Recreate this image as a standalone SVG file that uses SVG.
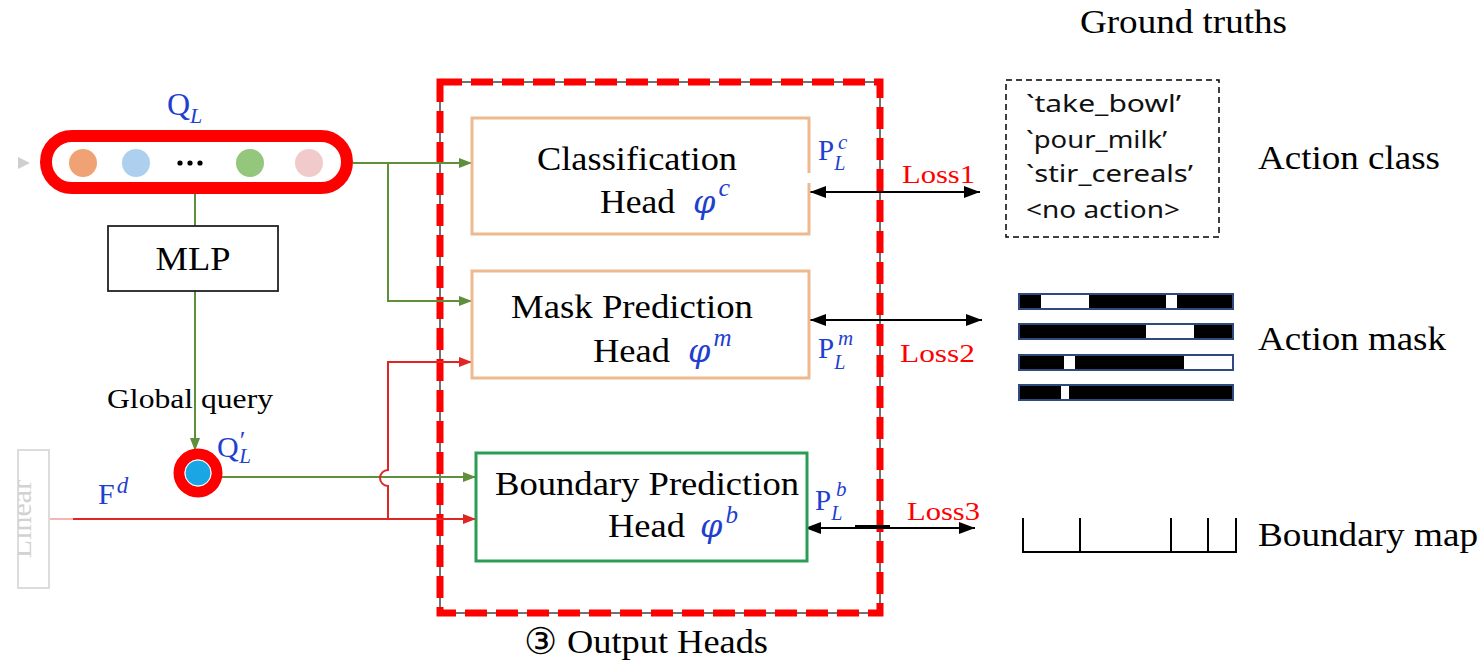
<svg xmlns="http://www.w3.org/2000/svg" width="1483" height="664" viewBox="0 0 1483 664">
<defs>
<style>
.serif{font-family:"Liberation Serif","Times New Roman",serif;fill:#000}
.math{font-family:"Liberation Serif","DejaVu Serif",serif;fill:#1f3fcf}
.phi{font-family:"DejaVu Serif","Liberation Serif",serif;font-style:italic;fill:#1f3fcf;font-size:32px}
.it{font-style:italic}
.loss{font-family:"Liberation Serif",serif;fill:#ff0000;font-size:26px}
.gt{font-family:"Noto Sans","DejaVu Sans",sans-serif;font-size:24px;fill:#111}
.g{stroke:#5e8f3a;stroke-width:2;fill:none}
.r{stroke:#e02525;stroke-width:2;fill:none}
.k{stroke:#000;stroke-width:2.2;fill:none}
.head{fill:#fff;stroke:#edb98f;stroke-width:3}
.bar{stroke:#2f4a80;stroke-width:2}
</style>
<marker id="ag" markerUnits="userSpaceOnUse" markerWidth="13" markerHeight="10" refX="13" refY="5" orient="auto"><path d="M0,0 L13,5 L0,10 z" fill="#5e8f3a"/></marker>
<marker id="ar" markerUnits="userSpaceOnUse" markerWidth="13" markerHeight="10" refX="13" refY="5" orient="auto"><path d="M0,0 L13,5 L0,10 z" fill="#e02525"/></marker>
<marker id="ak" markerUnits="userSpaceOnUse" markerWidth="16" markerHeight="12" refX="16" refY="6" orient="auto-start-reverse"><path d="M0,0 L16,6 L0,12 z" fill="#000"/></marker>
<clipPath id="linclip"><rect x="18" y="450" width="31" height="138"/></clipPath>
</defs>
<rect width="1483" height="664" fill="#fff"/>

<g id="linear-faded">
<rect x="18" y="450" width="31" height="138" fill="none" stroke="#dcdcdc" stroke-width="2"/>
<g clip-path="url(#linclip)">
<text font-family="Liberation Serif,serif" font-size="30" fill="#d2d2d2" transform="translate(31,519) rotate(-90)" text-anchor="middle">Linear</text>
</g>
<path d="M18,157 L30,163 L18,169 z" fill="#cfcfcf"/>
</g>

<g id="output-heads-frame">
<rect x="440" y="82" width="440" height="531" fill="none" stroke="#444" stroke-width="1.5"/>
<rect x="440" y="82" width="440" height="531" fill="none" stroke="#ff0000" stroke-width="7" stroke-dasharray="22 9"/>
<text x="524" y="654" font-family="DejaVu Sans,sans-serif" font-size="37" fill="#000">③</text>
<text class="serif" x="567" y="653" font-size="33" textLength="201" lengthAdjust="spacingAndGlyphs">Output Heads</text>
</g>

<g id="connectors">
<path class="g" d="M353,163 H472" marker-end="url(#ag)"/>
<path class="g" d="M388,163 V301 H472" marker-end="url(#ag)"/>
<path class="g" d="M195,194 V226"/>
<path class="g" d="M195,291 V451" marker-end="url(#ag)"/>
<path class="g" d="M222,477 H476" marker-end="url(#ag)"/>
<path d="M50,519 H73" stroke="#f5b5b5" stroke-width="2"/>
<path class="r" d="M73,519 H476" marker-end="url(#ar)"/>
<path class="r" d="M388,519 V486 A8,8 0 0 1 388,470 V362 H472" marker-end="url(#ar)"/>
<path class="k" d="M810,192 H980" marker-start="url(#ak)" marker-end="url(#ak)"/>
<path class="k" d="M810,320 H982" marker-start="url(#ak)" marker-end="url(#ak)"/>
<path class="k" d="M805,528 H975" marker-start="url(#ak)" marker-end="url(#ak)"/>
<path d="M855,527 H890" stroke="#000" stroke-width="4"/>
</g>

<g id="query-set">
<text class="math" x="167" y="115" font-size="32">Q<tspan class="it" font-size="22" dy="8">L</tspan></text>
<rect x="46" y="136" width="301" height="52" rx="26" ry="26" fill="#fff" stroke="#ff0000" stroke-width="12"/>
<circle cx="83" cy="163" r="14" fill="#f0a274"/>
<circle cx="136" cy="163" r="14" fill="#acd0ee"/>
<circle cx="180" cy="163" r="2.6" fill="#000"/>
<circle cx="190" cy="163" r="2.6" fill="#000"/>
<circle cx="200" cy="163" r="2.6" fill="#000"/>
<circle cx="250" cy="163" r="14" fill="#94c67c"/>
<circle cx="309" cy="163" r="14" fill="#f1cbcb"/>
</g>

<g id="mlp">
<rect x="108" y="226" width="170" height="65" fill="#fff" stroke="#222" stroke-width="1.8"/>
<text class="serif" x="193" y="270" font-size="34" text-anchor="middle" textLength="75" lengthAdjust="spacingAndGlyphs">MLP</text>
</g>

<g id="global-query">
<text class="serif" x="107" y="408" font-size="27" textLength="166" lengthAdjust="spacingAndGlyphs">Global query</text>
<path class="g" d="M195,392 V412"/>
<circle cx="198" cy="473" r="19" fill="#fff" stroke="#ff0000" stroke-width="11"/>
<circle cx="198" cy="473" r="13" fill="#1aa6e4" stroke="#fff" stroke-width="1"/>
<text class="math" x="217" y="457" font-size="30">Q<tspan font-size="26" dx="1" dy="-8">′</tspan><tspan class="it" font-size="21" dx="-6" dy="14">L</tspan></text>
<text class="math" x="98" y="504" font-size="30">F<tspan class="it" font-size="23" dx="2" dy="-11">d</tspan></text>
</g>

<g id="classification-head">
<rect class="head" x="472" y="118" width="337" height="116"/>
<text class="serif" x="537" y="170" font-size="34" textLength="200" lengthAdjust="spacingAndGlyphs">Classification</text>
<text class="serif" x="600" y="213" font-size="34" textLength="75" lengthAdjust="spacingAndGlyphs">Head</text>
<text class="phi" x="693" y="213">φ<tspan class="math it" font-size="26" dx="3" dy="-17">c</tspan></text>
<text class="math" x="818" y="160" font-size="29">P<tspan class="it" font-size="20" dy="10">L</tspan></text>
<text class="math it" x="838" y="149" font-size="21">c</text>
<rect x="804" y="173" width="8" height="10" fill="#fff"/>
</g>

<g id="mask-head">
<rect class="head" x="472" y="271" width="337" height="107"/>
<text class="serif" x="511" y="318" font-size="34" textLength="242" lengthAdjust="spacingAndGlyphs">Mask Prediction</text>
<text class="serif" x="593" y="362" font-size="34" textLength="77" lengthAdjust="spacingAndGlyphs">Head</text>
<text class="phi" x="688" y="362">φ<tspan class="math it" font-size="25" dx="3" dy="-16">m</tspan></text>
<text class="math" x="818" y="358" font-size="29">P<tspan class="it" font-size="20" dy="11">L</tspan></text>
<text class="math it" x="838" y="345" font-size="21">m</text>
</g>

<g id="boundary-head">
<rect x="476" y="453" width="331" height="108" fill="#fff" stroke="#2a9d55" stroke-width="3"/>
<text class="serif" x="495" y="495" font-size="34" textLength="304" lengthAdjust="spacingAndGlyphs">Boundary Prediction</text>
<text class="serif" x="608" y="537" font-size="34" textLength="77" lengthAdjust="spacingAndGlyphs">Head</text>
<text class="phi" x="700" y="537">φ<tspan class="math it" font-size="25" dx="3" dy="-14">b</tspan></text>
<text class="math" x="815" y="510" font-size="29">P<tspan class="it" font-size="20" dy="10">L</tspan></text>
<text class="math it" x="836" y="496" font-size="21">b</text>
</g>

<g id="losses">
<text class="loss" x="902" y="183" textLength="73" lengthAdjust="spacingAndGlyphs">Loss1</text>
<text class="loss" x="900" y="362" textLength="75" lengthAdjust="spacingAndGlyphs">Loss2</text>
<text class="loss" x="907" y="520" textLength="73" lengthAdjust="spacingAndGlyphs">Loss3</text>
</g>

<g id="ground-truths">
<text class="serif" x="1080" y="33" font-size="34" textLength="207" lengthAdjust="spacingAndGlyphs">Ground truths</text>
</g>

<g id="action-class">
<rect x="1006" y="80" width="213" height="157" fill="none" stroke="#000" stroke-width="1.5" stroke-dasharray="6 4"/>
<text class="gt" x="1026" y="112" textLength="155" lengthAdjust="spacingAndGlyphs">`take_bowl’</text>
<text class="gt" x="1026" y="148" textLength="141" lengthAdjust="spacingAndGlyphs">`pour_milk’</text>
<text class="gt" x="1026" y="182" textLength="167" lengthAdjust="spacingAndGlyphs">`stir_cereals’</text>
<text class="gt" x="1026" y="218" textLength="154" lengthAdjust="spacingAndGlyphs">&lt;no action&gt;</text>
<text class="serif" x="1258" y="169" font-size="34" textLength="182" lengthAdjust="spacingAndGlyphs">Action class</text>
</g>

<g id="action-mask">
<rect class="bar" x="1019" y="294" width="214" height="15" fill="#000"/>
<rect x="1041" y="295" width="48" height="13" fill="#fff"/>
<rect x="1166" y="295" width="11" height="13" fill="#fff"/>
<rect class="bar" x="1019" y="324" width="214" height="15" fill="#000"/>
<rect x="1146" y="325" width="48" height="13" fill="#fff"/>
<rect class="bar" x="1019" y="355" width="214" height="15" fill="#000"/>
<rect x="1064" y="356" width="11" height="13" fill="#fff"/>
<rect x="1184" y="356" width="48" height="13" fill="#fff"/>
<rect class="bar" x="1019" y="385" width="214" height="15" fill="#000"/>
<rect x="1061" y="386" width="8" height="13" fill="#fff"/>
<text class="serif" x="1258" y="350" font-size="34" textLength="188" lengthAdjust="spacingAndGlyphs">Action mask</text>
</g>

<g id="boundary-map">
<path d="M1023,518 V552 H1236 V518 M1080,518 V552 M1171,518 V552 M1208,518 V552" fill="none" stroke="#000" stroke-width="2"/>
<text class="serif" x="1258" y="546" font-size="34" textLength="220" lengthAdjust="spacingAndGlyphs">Boundary map</text>
</g>
</svg>
